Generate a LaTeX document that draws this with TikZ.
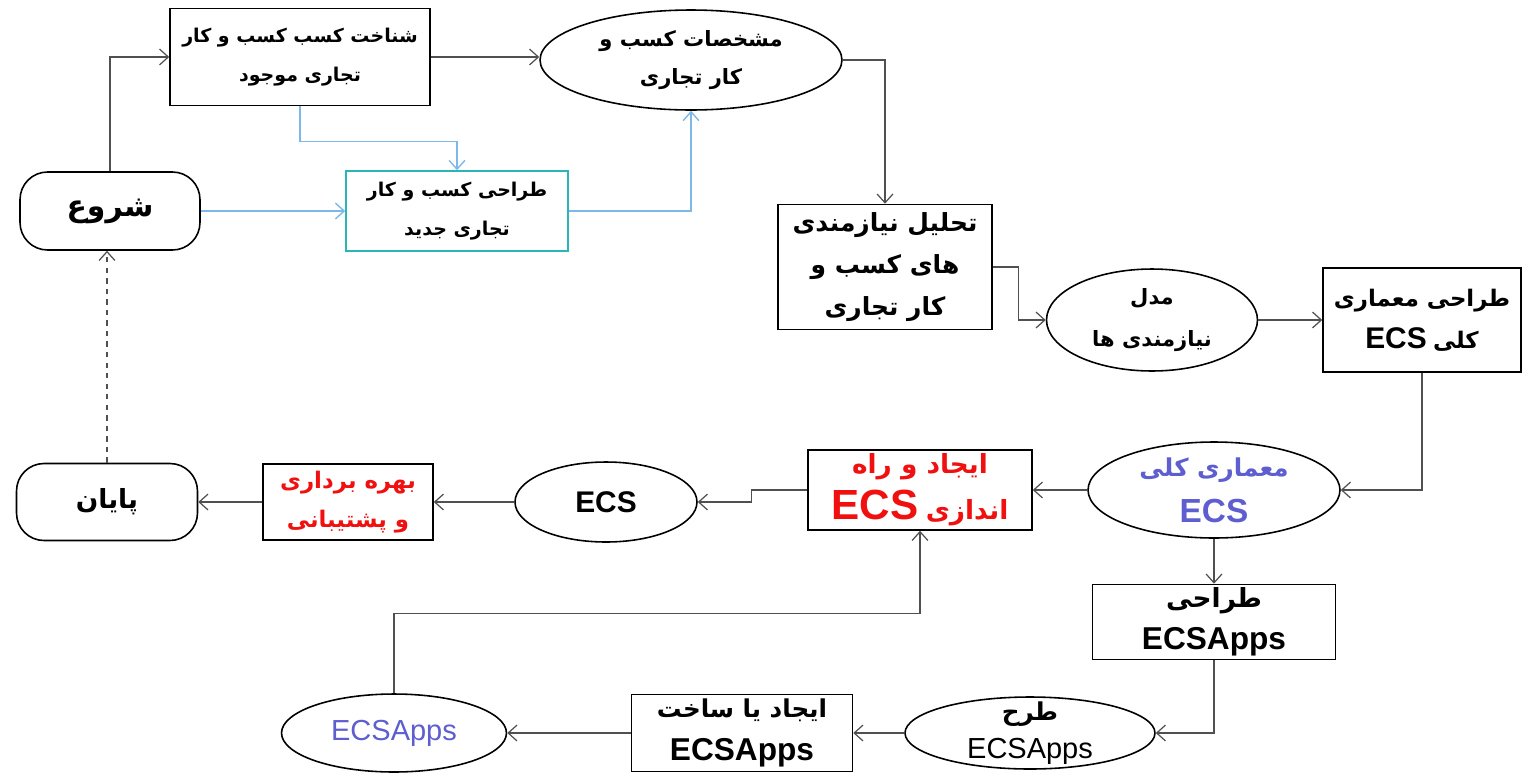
\documentclass[tikz,border=0pt]{standalone}
\usepackage{fontspec}
\setmainfont{Liberation Sans}
\newfontfamily\ar[Script=Arabic]{DejaVu Sans}
\TeXXeTstate=1
\usetikzlibrary{arrows.meta,shapes.geometric}
\newcommand\fa[1]{{\ar\beginR #1\endR}}
\definecolor{lineg}{HTML}{505050}
\definecolor{cyanbox}{HTML}{2BB5B8}
\definecolor{cyanline}{HTML}{7DB8E8}
\definecolor{bluetxt}{HTML}{5E5ED0}
\definecolor{redtxt}{HTML}{F01010}
\begin{document}
\begin{tikzpicture}[x=0.02cm,y=-0.02cm,
  base/.style={draw=black,line width=0.9pt,fill=white,inner sep=0pt,align=center,font=\bfseries},
  rbox/.style={base,rectangle},
  oval/.style={base,ellipse},
  term/.style={base,rectangle,rounded corners=0.55cm},
  lbl/.style={inner sep=0pt,align=center,font=\bfseries},
  arr/.style={draw=lineg,line width=0.7pt,-{Straight Barb[length=5pt,width=9pt]}},
  carr/.style={draw=cyanline,line width=0.8pt,-{Straight Barb[length=5pt,width=9pt]}}
]
\useasboundingbox (0,0) rectangle (1522,775);

% nodes
\node[term,minimum width=3.6cm,minimum height=1.56cm,font=\bfseries\fontsize{17}{22}\selectfont] (start) at (110,211) {\fa{شروع}};
\node[rbox,minimum width=5.2cm,minimum height=1.94cm,font=\bfseries\fontsize{10.8}{22}\selectfont] (box1) at (300,57) {\fa{شناخت کسب کسب و کار}\\\fa{تجاری موجود}};
\node[oval,minimum width=6.04cm,minimum height=2.0cm] (ell3) at (691,60) {};
\node[lbl,font=\bfseries\fontsize{12}{22}\selectfont] (ell3t) at (691,60) {\fa{مشخصات کسب و}\\\fa{کار تجاری}};
\node[rbox,draw=cyanbox,minimum width=4.44cm,minimum height=1.6cm,font=\bfseries\fontsize{10.8}{22}\selectfont] (cyan) at (457,211) {\fa{طراحی کسب و کار}\\\fa{تجاری  جدید}};
\node[rbox,minimum width=4.28cm,minimum height=2.5cm,font=\bfseries\fontsize{14.2}{24}\selectfont] (box5) at (885,267) {\fa{تحلیل نیازمندی}\\\fa{های کسب و}\\\fa{کار تجاری}};
\node[oval,minimum width=4.22cm,minimum height=2.04cm] (ell6) at (1152,320) {};
\node[lbl,font=\bfseries\fontsize{12}{24}\selectfont] (ell6t) at (1152,320) {\fa{مدل}\\\fa{نیازمندی ها}};
\node[rbox,minimum width=3.96cm,minimum height=2.08cm,font=\bfseries\fontsize{13}{24}\selectfont] (box7) at (1422,320) {\fa{طراحی معماری}\\{\fontsize{17}{24}\selectfont ECS} \fa{کلی}};
\node[oval,minimum width=5.04cm,minimum height=1.92cm] (ell8) at (1214,490) {};
\node[lbl,text=bluetxt,font=\bfseries\fontsize{14}{26}\selectfont] (ell8t) at (1214,490) {\fa{معماری کلی}\\{\fontsize{19}{26}\selectfont ECS}};
\node[rbox,text=redtxt,minimum width=4.48cm,minimum height=1.6cm,font=\bfseries\fontsize{15}{26}\selectfont] (red) at (920,490) {\fa{ایجاد و راه}\\{\fontsize{24}{26}\selectfont ECS} \fa{اندازی}};
\node[oval,minimum width=3.64cm,minimum height=1.6cm] (ecs) at (606,502) {};
\node[lbl,font=\bfseries\fontsize{17}{20}\selectfont] (ecst) at (606,502) {ECS};
\node[rbox,text=redtxt,minimum width=3.4cm,minimum height=1.52cm,font=\bfseries\fontsize{13}{22}\selectfont] (redt) at (348,502) {\fa{بهره برداری}\\\fa{و پشتیبانی}};
\node[term,minimum width=3.62cm,minimum height=1.54cm,font=\bfseries\fontsize{15}{20}\selectfont] (end) at (107,502) {\fa{پایان}};
\node[rbox,minimum width=4.86cm,minimum height=1.5cm,font=\bfseries\fontsize{15}{24}\selectfont] (design) at (1214,622) {\fa{طراحی}\\{\fontsize{18}{24}\selectfont ECSApps}};
\node[oval,minimum width=5.0cm,minimum height=1.44cm] (tarh) at (1030,733) {};
\node[lbl,font=\bfseries\fontsize{14}{22}\selectfont] (tarht) at (1030,733) {\fa{طرح}\\{\fontsize{16.5}{22}\selectfont\mdseries ECSApps}};
\node[rbox,minimum width=4.42cm,minimum height=1.54cm,font=\bfseries\fontsize{14}{24}\selectfont] (build) at (742,733) {\fa{ایجاد یا ساخت}\\{\fontsize{18}{24}\selectfont ECSApps}};
\node[oval,minimum width=4.5cm,minimum height=1.56cm] (apps) at (394,733) {};
\node[lbl,text=bluetxt,font=\fontsize{16.5}{20}\selectfont] (appst) at (394,733) {ECSApps};

% connectors
\draw[arr] (start.north) |- (box1.west);
\draw[arr] (box1.east) -- (box1.east -| ell3.west);
\draw[carr] (box1.south) -- ++(0,35) -| (cyan.north);
\draw[carr] (start.east) -- (cyan.west);
\draw[carr] (cyan.east) -| (ell3.south);
\draw[arr] (ell3.east) -| (box5.north);
\draw[arr] (box5.east) -- ++(26,0) |- (ell6.west);
\draw[arr] (ell6.east) -- (box7.west);
\draw[arr] (box7.south) |- (ell8.east);
\draw[arr] (ell8.west) -- (red.east);
\draw[arr] (ell8.south) -- (design.north);
\draw[arr] (design.south) |- (tarh.east);
\draw[arr] (tarh.west) -- (build.east);
\draw[arr] (build.west) -- (apps.east);
\draw[arr] (apps.north) -- ++(0,-80) -| (red.south);
\draw[arr] (red.west) -- ++(-56,0) |- (ecs.east);
\draw[arr] (ecs.west) -- (redt.east);
\draw[arr] (redt.west) -- (end.east);
\draw[arr,dashed] (end.north) -- (start.south -| end.north);
\end{tikzpicture}
\end{document}
